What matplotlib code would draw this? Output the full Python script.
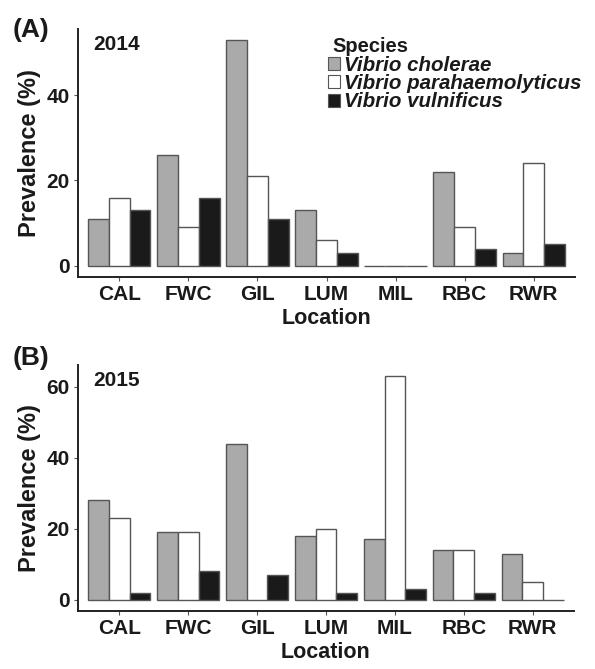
import matplotlib
matplotlib.use("Agg")
import matplotlib.pyplot as plt
import numpy as np
from matplotlib.patches import Patch

plt.rcParams['font.family'] = ['Liberation Sans', 'DejaVu Sans']

locations = ["CAL", "FWC", "GIL", "LUM", "MIL", "RBC", "RWR"]
species = ["Vibrio cholerae", "Vibrio parahaemolyticus", "Vibrio vulnificus"]
colors = ["#aaaaaa", "#ffffff", "#1a1a1a"]

vc_2014 = [11, 26, 53, 13, 0, 22, 3]
vp_2014 = [16, 9, 21, 6, 0, 9, 24]
vv_2014 = [13, 16, 11, 3, 0, 4, 5]

vc_2015 = [28, 19, 44, 18, 17, 14, 13]
vp_2015 = [23, 19, 0, 20, 63, 14, 5]
vv_2015 = [2, 8, 7, 2, 3, 2, 0]

yticks_2014 = [0, 20, 40]
yticks_2015 = [0, 20, 40, 60]

W, H = 595, 669
fig = plt.figure(figsize=(W / 100, H / 100), dpi=100)

def ax_rect(left, top, right, bottom):
    return [left / W, 1 - bottom / H, (right - left) / W, (bottom - top) / H]

axA = fig.add_axes(ax_rect(78, 28.5, 575, 277))
axB = fig.add_axes(ax_rect(78, 365, 574, 611))

def draw(ax, series, yticks, year):
    x = np.arange(1, len(locations) + 1)
    bw = 0.3
    for i, (vals, c) in enumerate(zip(series, colors)):
        ax.bar(x + (i - 1) * bw, vals, width=bw, color=c, edgecolor="#555555",
               linewidth=1.0, zorder=2)
    ymax = max(max(s) for s in series)
    ax.set_ylim(-0.05 * ymax, 1.05 * ymax)
    ax.set_xlim(0.4, len(locations) + 0.6)
    ax.set_xticks(x)
    ax.set_xticklabels(locations, fontsize=15, fontweight="bold", color="#1a1a1a")
    ax.set_yticks(yticks)
    ax.set_yticklabels([str(t) for t in yticks], fontsize=15, fontweight="bold",
                       color="#1a1a1a")
    ax.tick_params(axis="both", length=3, width=0.8, color="#555555", pad=3)
    for s in ["top", "right"]:
        ax.spines[s].set_visible(False)
    for s in ["left", "bottom"]:
        ax.spines[s].set_linewidth(1.4)
        ax.spines[s].set_color("#222222")
    ax.set_ylabel("Prevalence (%)", fontsize=17, fontweight="bold", labelpad=4,
                  color="#1a1a1a")
    ax.set_xlabel("Location", fontsize=15.5, fontweight="bold", labelpad=3,
                  color="#1a1a1a")
    ax.text(0.03, 0.975, year, transform=ax.transAxes, fontsize=15,
            fontweight="bold", ha="left", va="top", color="#1a1a1a")

draw(axA, [vc_2014, vp_2014, vv_2014], yticks_2014, "2014")
draw(axB, [vc_2015, vp_2015, vv_2015], yticks_2015, "2015")

fig.text(13 / W, 1 - 30 / H, "(A)", fontsize=19, fontweight="bold", ha="left",
         va="center", color="#1a1a1a")
fig.text(13 / W, 1 - 358 / H, "(B)", fontsize=19, fontweight="bold", ha="left",
         va="center", color="#1a1a1a")

fig.text(332 / W, 1 - 52 / H, "Species", fontsize=14.5, fontweight="bold",
         ha="left", va="baseline", color="#1a1a1a")

handles = [Patch(facecolor=c, edgecolor="#555555", linewidth=0.8, label=s)
           for c, s in zip(colors, species)]
leg = fig.legend(handles=handles, loc="upper left",
                 bbox_to_anchor=(328 / W, 1 - 56 / H), frameon=False,
                 prop={"size": 14.8, "weight": "bold", "style": "italic"},
                 handlelength=0.6, handleheight=0.6, handletextpad=0.2,
                 labelspacing=-0.04, borderpad=0, borderaxespad=0)
for t in leg.get_texts():
    t.set_color("#1a1a1a")

fig.savefig("out.png", dpi=100)
